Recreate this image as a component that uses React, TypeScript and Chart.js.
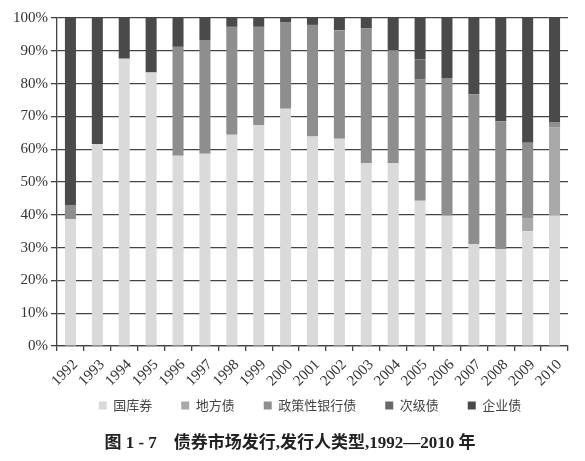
import React, { useEffect, useRef } from "react";
import { Chart, registerables } from "chart.js";

Chart.register(...registerables);

const years = ["1992", "1993", "1994", "1995", "1996", "1997", "1998", "1999", "2000", "2001", "2002", "2003", "2004", "2005", "2006", "2007", "2008", "2009", "2010"];

// shares of issuance, percent
const guoKuQuan = [38.7, 61.6, 87.6, 83.4, 58.0, 58.6, 64.4, 67.4, 72.3, 63.9, 63.2, 55.8, 55.8, 44.3, 39.7, 31.1, 29.6, 35.0, 39.7];
const diFangZhai = [0, 0, 0, 0, 0, 0, 0, 0, 0, 0, 0, 0, 0, 0, 0, 0, 0, 4.0, 26.9];
const zhengCeXing = [4.3, 0, 0, 0, 33.2, 34.7, 32.9, 29.9, 26.3, 34.0, 33.1, 41.0, 34.4, 36.9, 42.0, 45.6, 38.9, 23.0, 1.7];
const ciJiZhai = [0, 0, 0, 0, 0, 0, 0, 0, 0, 0, 0, 0, 0, 6.2, 0, 0, 0, 0, 0];
const qiYeZhai = [57.0, 38.4, 12.4, 16.6, 8.8, 6.7, 2.7, 2.7, 1.4, 2.1, 3.7, 3.2, 9.8, 12.6, 18.3, 23.3, 31.5, 38.0, 31.7];

const seriesNames = ["国库券", "地方债", "政策性银行债", "次级债", "企业债"];
const seriesColors = ["#dadada", "#a9a9a9", "#8e8e8e", "#686868", "#4a4a4a"];
const yMin = 0;
const yMax = 100;
const yStep = 10;

const caption = "图 1 - 7    债券市场发行,发行人类型,1992—2010 年";

// moves the legend so its items sit centred under the page like the original
const legendPlacer = {
  id: "legendPlacer",
  afterLayout(chart: any) {
    const l = chart.legend;
    if (!l) return;
    const dx = 310 - (l.left + l.right) / 2;
    const dy = 370 - l.top;
    l.left += dx;
    l.right += dx;
    l.top += dy;
    l.bottom += dy;
  },
};

export default function App() {
  const ref = useRef<HTMLCanvasElement | null>(null);

  useEffect(() => {
    if (!ref.current) return;
    const values = [guoKuQuan, diFangZhai, zhengCeXing, ciJiZhai, qiYeZhai];
    const chart = new Chart(ref.current, {
      type: "bar",
      data: {
        labels: years,
        datasets: values.map((d, i) => ({
          label: seriesNames[i],
          data: d,
          backgroundColor: seriesColors[i],
          borderWidth: 0,
          categoryPercentage: 1,
          barPercentage: 0.41,
        })),
      },
      plugins: [legendPlacer],
      options: {
        animation: false,
        responsive: false,
        devicePixelRatio: 1,
        layout: { padding: { top: 18, left: 10, right: 17, bottom: 14 } },
        plugins: {
          legend: {
            position: "bottom",
            labels: {
              boxWidth: 8,
              boxHeight: 8,
              padding: 29,
              color: "#444",
              font: { family: "'Noto Sans CJK SC', sans-serif", size: 13 },
            },
          },
          title: { display: false },
          tooltip: { enabled: false },
        },
        scales: {
          x: {
            stacked: true,
            grid: {
              display: true,
              drawOnChartArea: false,
              drawTicks: true,
              tickLength: 5,
              color: "#444",
              lineWidth: 1.3,
              offset: true,
            },
            border: { display: true, color: "#444", width: 1.3 },
            ticks: {
              autoSkip: false,
              minRotation: 45,
              maxRotation: 45,
              padding: 5,
              labelOffset: 5,
              color: "#333",
              font: { family: "'Liberation Serif', serif", size: 15 },
            },
          },
          y: {
            stacked: true,
            min: yMin,
            max: yMax,
            grid: {
              color: "#444",
              lineWidth: 1.3,
              drawTicks: true,
              tickLength: 6,
            },
            border: { display: true, color: "#444", width: 1.3 },
            ticks: {
              stepSize: yStep,
              padding: 3,
              color: "#333",
              font: { family: "'Liberation Serif', serif", size: 15 },
              callback: (v: any) => v + "%",
            },
          },
        },
      },
    });
    return () => chart.destroy();
  }, []);

  return (
    <div style={{ position: "fixed", left: 0, top: 0, width: 585, height: 461, background: "#fff" }}>
      <canvas ref={ref} width={585} height={461} style={{ width: 585, height: 461, display: "block" }} />
      <div
        style={{
          position: "absolute",
          left: 0,
          top: 432,
          width: 580,
          textAlign: "center",
          lineHeight: "22px",
          fontSize: 17,
          fontWeight: "bold",
          color: "#222",
          fontFamily: "'Liberation Serif', 'Noto Sans CJK SC', serif",
          whiteSpace: "pre",
        }}
      >
        {caption}
      </div>
    </div>
  );
}
